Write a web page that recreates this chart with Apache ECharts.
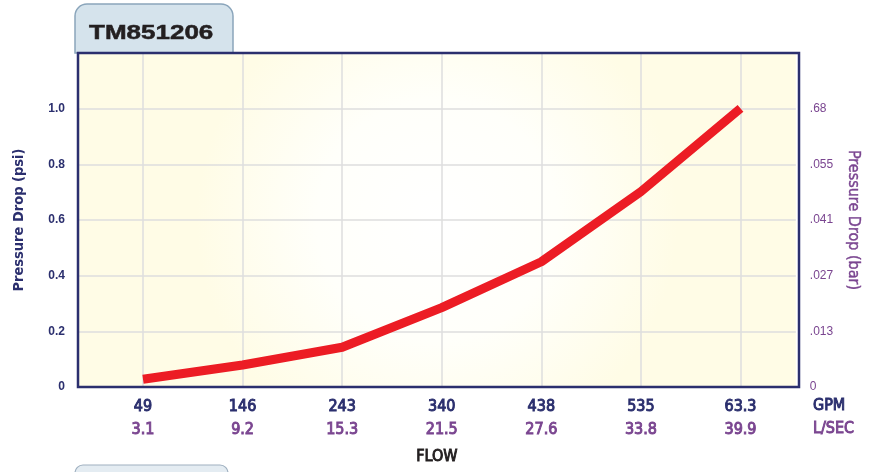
<!DOCTYPE html>
<html><head><meta charset="utf-8">
<script src="https://cdn.jsdelivr.net/npm/echarts@6/dist/echarts.min.js"></script>
<style>html,body{margin:0;padding:0;background:#fff}#c{width:869px;height:472px}</style>
</head><body><div id="c"></div>
<script>
const title = 'TM851206';
const gpm = ['49','146','243','340','438','535','63.3'];
const lps = ['3.1','9.2','15.3','21.5','27.6','33.8','39.9'];
const psi = [0.028,0.079,0.143,0.285,0.450,0.702,1.001];
const psiTicks = ['0','0.2','0.4','0.6','0.8','1.0'];
const barTicks = ['0','.013','.027','.041','.055','.68'];
const yName = 'Pressure Drop (psi)';
const yName2 = 'Pressure Drop (bar)';
const xName = 'FLOW';
const units = ['GPM','L/SEC'];

const NAVY = '#2b2f6e', PURPLE = '#7a4590', GRID = '#dedede';
const COND = "'DejaVu Sans Condensed',sans-serif";
const chart = echarts.init(document.getElementById('c'));
const bg = new echarts.graphic.RadialGradient(0.5, 0.5, 0.72, [
  {offset: 0, color: '#ffffff'}, {offset: 0.5, color: '#fffffa'}, {offset: 1, color: '#fffce6'}]);
const lbl = (c) => ({color: c, fontSize: 16, fontFamily: COND, lineHeight: 23, textBorderColor: c, textBorderWidth: 0.9});

chart.setOption({
  animation: false,
  grid: [
    {left: 78, right: 70, top: 53, bottom: 85, show: true, backgroundColor: bg, borderWidth: 0},
    {left: 143, right: 128.5, top: 53, bottom: 85},
    {left: 78, right: 70, top: 53, bottom: 85, show: true, backgroundColor: 'transparent', borderColor: NAVY, borderWidth: 2.5, z: 10}
  ],
  xAxis: [
    {gridIndex: 0, type: 'value', min: 0, max: 1, axisLine: {show: false}, axisTick: {show: false},
     axisLabel: {show: false}, splitLine: {show: false},
     name: xName, nameLocation: 'middle', nameGap: 62,
     nameTextStyle: {color: '#231f20', fontSize: 16, fontFamily: COND, textBorderColor: '#231f20', textBorderWidth: 0.9}},
    {gridIndex: 1, type: 'category', data: gpm, boundaryGap: false,
     axisLine: {show: false}, axisTick: {show: false},
     splitLine: {show: true, lineStyle: {color: GRID, width: 1.5}},
     axisLabel: {interval: 0, margin: 8,
       formatter: (v, i) => '{a|' + v + '}\n{b|' + lps[i] + '}',
       rich: {a: lbl(NAVY), b: lbl(PURPLE)}}}
  ],
  yAxis: [
    {gridIndex: 0, type: 'value', min: 0, max: 1.2, interval: 0.2, position: 'left',
     axisLine: {show: false}, axisTick: {show: false},
     axisLabel: {margin: 13, color: NAVY, fontSize: 12, fontWeight: 'bold', fontFamily: 'Liberation Sans, Arial, sans-serif',
       formatter: v => psiTicks[Math.round(v / 0.2)] ?? ''},
     splitLine: {lineStyle: {color: GRID, width: 1.5}},
     name: yName, nameLocation: 'middle', nameGap: 51, nameRotate: 90,
     nameTextStyle: {color: NAVY, fontSize: 14.5, fontWeight: 'bold', fontFamily: COND}},
    {gridIndex: 0, type: 'value', min: 0, max: 1.2, interval: 0.2, position: 'right',
     axisLine: {show: false}, axisTick: {show: false}, splitLine: {show: false},
     axisLabel: {margin: 14, color: PURPLE, fontSize: 12, fontFamily: 'Liberation Sans, Arial, sans-serif',
       formatter: v => barTicks[Math.round(v / 0.2)] ?? ''},
     name: yName2, nameLocation: 'middle', nameGap: 49, nameRotate: -90,
     nameTextStyle: {color: PURPLE, fontSize: 16, fontFamily: COND, textBorderColor: PURPLE, textBorderWidth: 0.4}},
    {gridIndex: 1, type: 'value', min: 0, max: 1.2, interval: 0.2, show: false}
  ],
  series: [{
    type: 'line', xAxisIndex: 1, yAxisIndex: 2, data: psi, symbol: 'none', z: 5,
    lineStyle: {color: '#ec1c24', width: 9, cap: 'butt', join: 'round'}
  }],
  graphic: [
    {type: 'rect', shape: {x: 75, y: 4, width: 158, height: 49, r: [12, 12, 0, 0]},
     style: {fill: '#d5e3ec', stroke: '#8aa5bb', lineWidth: 1.5}},
    {type: 'text', x: 89, y: 33, scaleX: 1.3,
     style: {text: title, font: 'bold 20px "Liberation Sans", Arial, sans-serif', fill: '#231f20', verticalAlign: 'middle',
       stroke: '#231f20', lineWidth: 0.5}},
    {type: 'rect', shape: {x: 75, y: 465, width: 153, height: 20, r: [8, 8, 0, 0]},
     style: {fill: '#e4ecf2', stroke: '#9fb0c0', lineWidth: 1.2}},
    {type: 'text', x: 813, y: 406,
     style: {text: units[0], font: '16px ' + COND, fill: NAVY, stroke: NAVY, lineWidth: 0.9, verticalAlign: 'middle'}},
    {type: 'text', x: 813, y: 429,
     style: {text: units[1], font: '16px ' + COND, fill: PURPLE, stroke: PURPLE, lineWidth: 0.9, verticalAlign: 'middle'}}
  ]
});
</script>
</body></html>
